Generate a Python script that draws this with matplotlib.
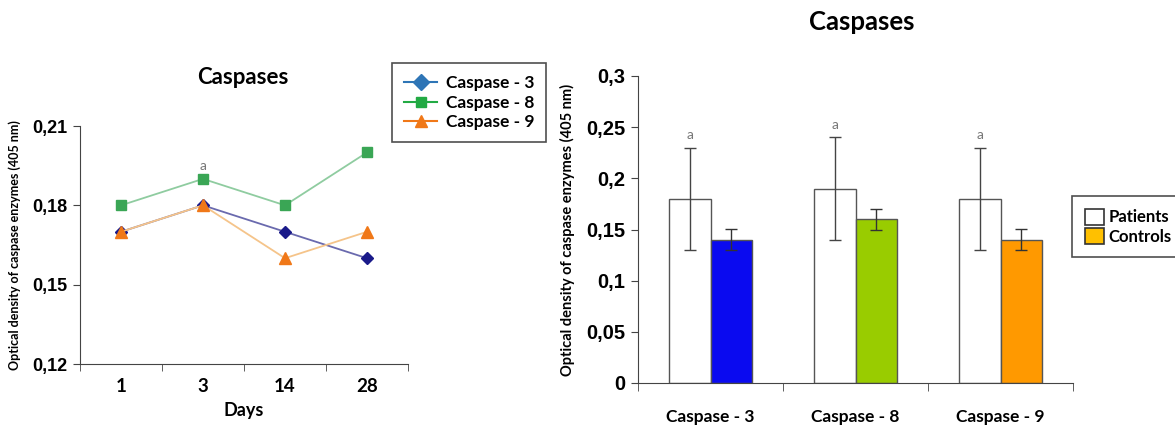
import matplotlib
matplotlib.use("Agg")
import matplotlib.pyplot as plt
from matplotlib.ticker import FixedLocator, FuncFormatter
from matplotlib.lines import Line2D
from matplotlib.patches import Patch
import numpy as np

# ---- data ----
days = ["1", "3", "14", "28"]
casp3_line = [0.17, 0.18, 0.17, 0.16]
casp8_line = [0.18, 0.19, 0.18, 0.20]
casp9_line = [0.17, 0.18, 0.16, 0.17]
line_sig_day = "3"
line_sig_value = 0.195

groups = ["Caspase - 3", "Caspase - 8", "Caspase - 9"]
patients = [0.18, 0.19, 0.18]
patients_err = [0.05, 0.05, 0.05]
controls = [0.14, 0.16, 0.14]
controls_err = [0.01, 0.01, 0.01]
control_colors = ["#0A0AF0", "#99CC00", "#FF9900"]
sig_labels = ["a", "a", "a"]

TXT = ["Lato", "DejaVu Sans"]
NUM = ["Liberation Sans", "DejaVu Sans"]
W, H = 1175, 426

fig = plt.figure(figsize=(11.75, 4.26), dpi=100)

def comma(v, pos):
    return ("%g" % round(v, 3)).replace(".", ",")

# ---- left line chart ----
ax1 = fig.add_axes([80 / W, 1 - 364 / H, 328 / W, 238 / H])
x = np.arange(len(days))
ax1.plot(x, casp3_line, color="#6A6AAE", lw=1.3, marker="D", ms=6.5,
         mfc="#1A1A8A", mec="#1A1A8A", label="Caspase - 3", zorder=3)
ax1.plot(x, casp8_line, color="#8FCCA0", lw=1.3, marker="s", ms=7,
         mfc="#3AA655", mec="#3AA655", label="Caspase - 8", zorder=3)
ax1.plot(x, casp9_line, color="#F5C48A", lw=1.3, marker="^", ms=8,
         mfc="#F07818", mec="#F07818", label="Caspase - 9", zorder=4)
ax1.text(days.index(line_sig_day), line_sig_value, "a", ha="center", va="center",
         fontsize=10, color="#777777", family=TXT)
ax1.set_xlim(-0.5, len(days) - 0.5)
ax1.set_ylim(0.12, 0.21)
ax1.yaxis.set_major_locator(FixedLocator([0.12, 0.15, 0.18, 0.21]))
ax1.yaxis.set_major_formatter(FuncFormatter(comma))
ax1.set_xticks(x)
ax1.set_xticklabels(days)
ax1.tick_params(axis="x", which="major", length=0, pad=10)
ax1.set_xticks(np.arange(-0.5, len(days)), minor=True)
ax1.tick_params(axis="x", which="minor", length=5, direction="out", color="#444444")
ax1.tick_params(axis="y", length=5, direction="out", color="#444444", pad=4)
for lab in ax1.get_xticklabels():
    lab.set_fontfamily(TXT); lab.set_fontweight("bold"); lab.set_fontsize(13.5)
for lab in ax1.get_yticklabels():
    lab.set_fontfamily(NUM); lab.set_fontweight("bold"); lab.set_fontsize(13)
for s in ["top", "right"]:
    ax1.spines[s].set_visible(False)
for s in ["left", "bottom"]:
    ax1.spines[s].set_color("#444444")
fig.text(243 / W, 1 - 78 / H, "Caspases", ha="center", va="center",
         fontsize=16, fontweight="bold", family=TXT)
ax1.set_xlabel("Days", fontsize=13, fontweight="bold", family=TXT, labelpad=5)
ax1.set_ylabel("Optical density of caspase enzymes (405 nm)", fontsize=9,
               family=TXT, fontweight="bold", labelpad=8)
handles = [
    Line2D([], [], color="#2E75B6", lw=1.5, marker="D", ms=8, mfc="#2E75B6", mec="#2E75B6"),
    Line2D([], [], color="#22AA44", lw=1.5, marker="s", ms=7, mfc="#22AA44", mec="#22AA44"),
    Line2D([], [], color="#F07818", lw=1.5, marker="^", ms=8, mfc="#F07818", mec="#F07818"),
]
leg1 = fig.legend(handles, ["Caspase - 3", "Caspase - 8", "Caspase - 9"],
                  loc="upper left", bbox_to_anchor=(392 / W, 1 - 63 / H),
                  frameon=True, fancybox=False, edgecolor="#222222",
                  prop={"family": TXT, "weight": "bold", "size": 12.5},
                  handlelength=1.9, labelspacing=0.2, borderpad=0.7,
                  handletextpad=0.5, borderaxespad=0)
leg1.get_frame().set_linewidth(1.2)

# ---- right bar chart ----
ax2 = fig.add_axes([638 / W, 1 - 383 / H, 435 / W, 307 / H])
g = np.arange(len(groups))
w = 0.286
ax2.bar(g - w / 2, patients, width=w, color="white", edgecolor="#555555", lw=1.0,
        yerr=patients_err, error_kw=dict(ecolor="#444444", elinewidth=1.0, capsize=4.5, capthick=1.0),
        zorder=2)
ax2.bar(g + w / 2, controls, width=w, color=control_colors, edgecolor="#555555", lw=1.0,
        yerr=controls_err, error_kw=dict(ecolor="#333333", elinewidth=1.0, capsize=4.5, capthick=1.0),
        zorder=2)
for i in range(len(groups)):
    ax2.text(g[i] - w / 2, patients[i] + patients_err[i] + 0.012, sig_labels[i],
             ha="center", va="center", fontsize=10, color="#777777", family=TXT)
ax2.set_xlim(-0.5, len(groups) - 0.5)
ax2.set_ylim(0, 0.3)
ax2.yaxis.set_major_locator(FixedLocator([0, 0.05, 0.1, 0.15, 0.2, 0.25, 0.3]))
ax2.yaxis.set_major_formatter(FuncFormatter(comma))
ax2.set_xticks(g)
ax2.set_xticklabels(groups)
ax2.tick_params(axis="x", which="major", length=0, pad=19)
ax2.set_xticks(np.arange(-0.5, len(groups)), minor=True)
ax2.tick_params(axis="x", which="minor", length=6, direction="out", color="#444444")
ax2.tick_params(axis="y", length=5, direction="out", color="#444444", pad=4)
for lab in ax2.get_xticklabels():
    lab.set_fontfamily(TXT); lab.set_fontweight("bold"); lab.set_fontsize(12.5)
for lab in ax2.get_yticklabels():
    lab.set_fontfamily(NUM); lab.set_fontweight("bold"); lab.set_fontsize(14.5)
for s in ["top", "right"]:
    ax2.spines[s].set_visible(False)
for s in ["left", "bottom"]:
    ax2.spines[s].set_color("#444444")
fig.text(862 / W, 1 - 22 / H, "Caspases", ha="center", va="center",
         fontsize=18.5, fontweight="bold", family=TXT)
ax2.set_ylabel("Optical density of caspase enzymes (405 nm)", fontsize=10.5,
               family=TXT, fontweight="bold", labelpad=8)
bh = [Patch(facecolor="white", edgecolor="#333333", lw=1.2),
      Patch(facecolor="#FFC000", edgecolor="#333333", lw=1.2)]
leg2 = fig.legend(bh, ["Patients", "Controls"], loc="upper left",
                  bbox_to_anchor=(1072 / W, 1 - 196 / H),
                  frameon=True, fancybox=False, edgecolor="#222222",
                  prop={"family": TXT, "weight": "bold", "size": 12},
                  handlelength=1.15, handleheight=1.15, labelspacing=0.15,
                  borderpad=0.75, handletextpad=0.3, borderaxespad=0)
leg2.get_frame().set_linewidth(1.2)

fig.savefig("out.png", dpi=100)
